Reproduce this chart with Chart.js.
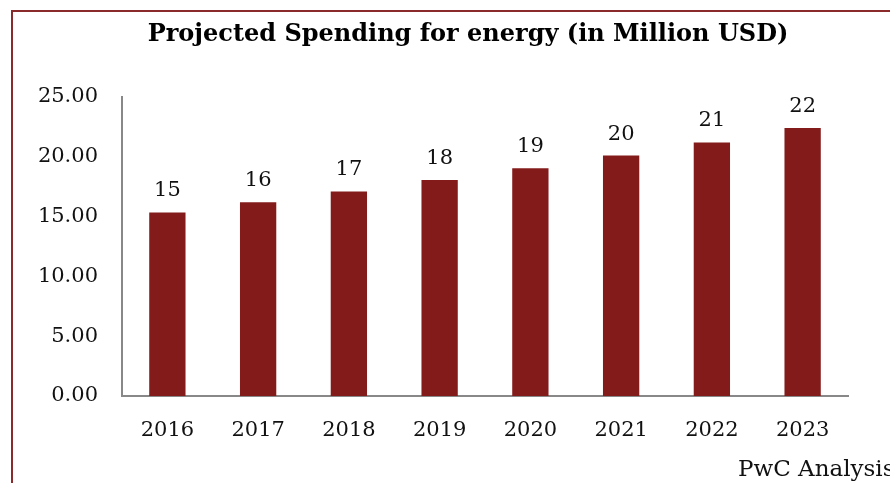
<!DOCTYPE html>
<html>
<head>
<meta charset="utf-8">
<script src="https://cdn.jsdelivr.net/npm/chart.js@4"></script>
<style>
  html, body { margin: 0; padding: 0; background: #fff; overflow: hidden; }
  #wrap { position: relative; width: 890px; height: 483px; overflow: hidden; }
  #frame {
    position: absolute; left: 11px; top: 10px; width: 900px; height: 500px;
    border-left: 2px solid #8b2a2a; border-top: 2px solid #8b2a2a;
  }
  #title {
    position: absolute; left: 468px; top: 18px; transform: translateX(-50%);
    white-space: nowrap; font: bold 24px "DejaVu Serif", serif; color: #000;
  }
  #source {
    position: absolute; left: 738px; top: 455px; white-space: nowrap;
    font: 23px "DejaVu Serif", serif; color: #111;
  }
  canvas { position: absolute; left: 0; top: 0; }
</style>
</head>
<body>
<div id="wrap">
  <div id="frame"></div>
  <canvas id="chart" width="890" height="483"></canvas>
  <div id="title">Projected Spending for energy (in Million USD)</div>
  <div id="source">PwC Analysis</div>
</div>
<script>
// chart data
const years = ['2016', '2017', '2018', '2019', '2020', '2021', '2022', '2023'];
const spending = [15.35, 16.2, 17.1, 18.05, 19.05, 20.1, 21.2, 22.4];
const valueLabels = ['15', '16', '17', '18', '19', '20', '21', '22'];
const yTicks = [0, 5, 10, 15, 20, 25];

const serif = '"DejaVu Serif", Georgia, serif';

// draw the number over each bar
const barLabels = {
  id: 'barLabels',
  afterDatasetsDraw(chart) {
    const ctx = chart.ctx;
    const meta = chart.getDatasetMeta(0);
    ctx.save();
    ctx.font = '21px ' + serif;
    ctx.fillStyle = '#111';
    ctx.textAlign = 'center';
    ctx.textBaseline = 'bottom';
    meta.data.forEach((bar, i) => {
      ctx.fillText(valueLabels[i], bar.x, bar.y - 11);
    });
    ctx.restore();
  }
};

new Chart(document.getElementById('chart'), {
  type: 'bar',
  data: {
    labels: years,
    datasets: [{
      data: spending,
      backgroundColor: '#841b1b',
      categoryPercentage: 1,
      barPercentage: 0.4
    }]
  },
  options: {
    responsive: false,
    animation: false,
    layout: { padding: { left: 0, right: 42, top: 97, bottom: 0 } },
    plugins: {
      legend: { display: false },
      tooltip: { enabled: false },
      title: { display: false }
    },
    scales: {
      x: {
        afterFit(scale) { scale.height = 87; },
        grid: { display: false, drawTicks: false },
        border: { color: '#888', width: 2 },
        ticks: { color: '#111', font: { family: serif, size: 21 }, padding: 22 }
      },
      y: {
        min: 0,
        max: 25,
        afterBuildTicks(scale) { scale.ticks = yTicks.map(v => ({ value: v })); },
        afterFit(scale) { scale.width = 122; },
        grid: { display: false, drawTicks: false },
        border: { color: '#888', width: 2 },
        ticks: {
          color: '#111',
          padding: 24,
          font: { family: serif, size: 21 },
          callback: v => Number(v).toFixed(2)
        }
      }
    }
  },
  plugins: [barLabels]
});
</script>
</body>
</html>
